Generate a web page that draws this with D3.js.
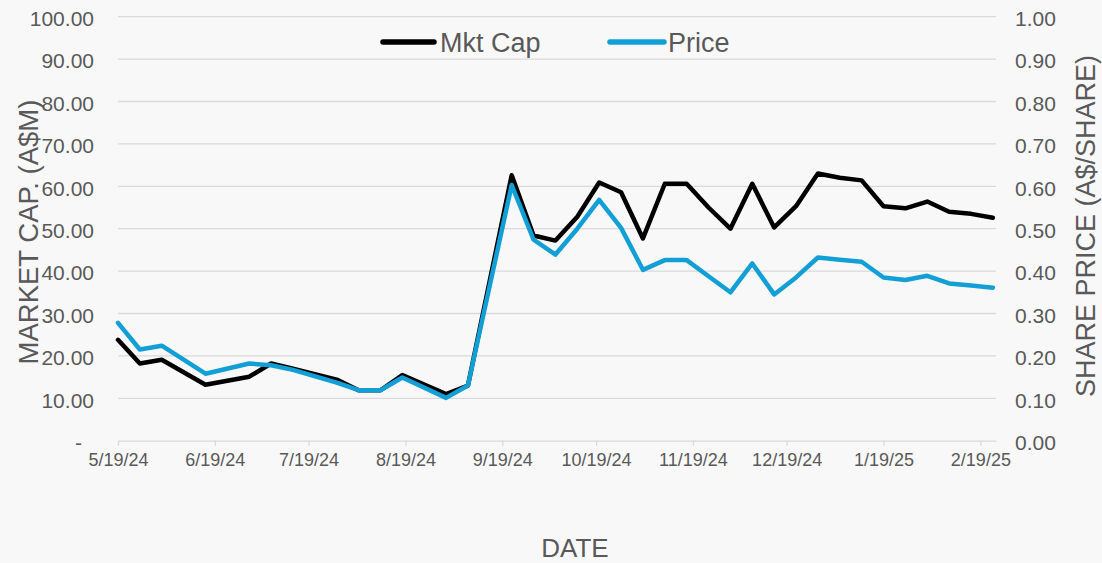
<!DOCTYPE html>
<html>
<head>
<meta charset="utf-8">
<script src="https://cdn.jsdelivr.net/npm/d3@7/dist/d3.min.js"></script>
<style>
  html, body { margin: 0; padding: 0; background: #f8f8f8; }
  svg { display: block; font-family: "Liberation Sans", Arial, sans-serif; }
</style>
</head>
<body>
<svg id="chart" width="1102" height="563"></svg>
<script>
// ---- data ----
const dates = ["2024-05-19","2024-05-26","2024-06-02","2024-06-16","2024-06-30","2024-07-07",
  "2024-07-14","2024-07-28","2024-08-04","2024-08-11","2024-08-18","2024-09-01","2024-09-08",
  "2024-09-22","2024-09-29","2024-10-06","2024-10-13","2024-10-20","2024-10-27","2024-11-03",
  "2024-11-10","2024-11-17","2024-11-24","2024-12-01","2024-12-08","2024-12-15","2024-12-22",
  "2024-12-29","2025-01-05","2025-01-12","2025-01-19","2025-01-26","2025-02-02","2025-02-09",
  "2025-02-16","2025-02-23"];
const mktCap = [23.8,18.2,19.1,13.2,15.1,18.2,17.0,14.4,11.9,11.9,15.5,11.0,13.0,
  62.6,48.4,47.2,52.8,60.9,58.6,47.7,60.6,60.6,55.0,50.0,60.6,50.3,55.3,
  63.0,62.0,61.4,55.3,54.8,56.4,54.0,53.5,52.6];
const price = [0.278,0.215,0.224,0.158,0.182,0.178,0.167,0.137,0.119,0.119,0.149,0.101,0.130,
  0.603,0.474,0.439,0.500,0.568,0.502,0.403,0.426,0.426,0.388,0.350,0.418,0.345,0.385,
  0.432,0.427,0.422,0.385,0.379,0.389,0.371,0.366,0.361];
const xTickDates = ["2024-05-19","2024-06-19","2024-07-19","2024-08-19","2024-09-19",
  "2024-10-19","2024-11-19","2024-12-19","2025-01-19","2025-02-19"];
const leftTicks = [0,10,20,30,40,50,60,70,80,90,100];
const rightTicks = [0,0.1,0.2,0.3,0.4,0.5,0.6,0.7,0.8,0.9,1.0];
const seriesNames = ["Mkt Cap","Price"];
const xDomainEnd = "2025-02-24";

// ---- layout ----
const svg = d3.select("#chart");
const W = 1102, H = 563;
const plot = {left: 118, right: 996, top: 16.7, bottom: 440.7};
const textColor = "#595959", gridColor = "#d9d9d9";
const colors = {"Mkt Cap": "#000000", "Price": "#129fd6"};

svg.append("rect").attr("width", W).attr("height", H).attr("fill", "#f8f8f8");

const parse = d3.utcParse("%Y-%m-%d");
const x = d3.scaleUtc().domain([parse(dates[0]), parse(xDomainEnd)]).range([plot.left, plot.right]);
const yL = d3.scaleLinear().domain([0, 100]).range([plot.bottom, plot.top]);
const yR = d3.scaleLinear().domain([0, 1]).range([plot.bottom, plot.top]);

// gridlines
svg.append("g").selectAll("line").data(leftTicks.filter(d => d > 0)).join("line")
  .attr("x1", plot.left).attr("x2", plot.right)
  .attr("y1", d => yL(d)).attr("y2", d => yL(d))
  .attr("stroke", gridColor).attr("stroke-width", 1.3);

// x axis
const fmtDate = d3.utcFormat("%-m/%-d/%y");
const xAxis = d3.axisBottom(x).tickValues(xTickDates.map(parse)).tickFormat(fmtDate)
  .tickSize(5).tickSizeOuter(0).tickPadding(8);
const gx = svg.append("g").attr("transform", `translate(0,${plot.bottom})`).call(xAxis);
gx.select(".domain").attr("stroke", gridColor).attr("stroke-width", 1.3);
gx.selectAll(".tick line").attr("stroke", gridColor).attr("stroke-width", 1.3);
gx.selectAll(".tick text").attr("fill", textColor).attr("font-size", 18)
  .attr("font-family", "Liberation Sans, Arial, sans-serif");

// left axis
const yAxisL = d3.axisLeft(yL).tickValues(leftTicks)
  .tickFormat(d => d === 0 ? "-" : d3.format(".2f")(d)).tickSize(0).tickPadding(24);
const gl = svg.append("g").attr("transform", `translate(${plot.left},0)`).call(yAxisL);
gl.select(".domain").remove();
gl.selectAll(".tick text").attr("fill", textColor).attr("font-size", 21)
  .attr("font-family", "Liberation Sans, Arial, sans-serif")
  .attr("dy", "0.42em")
  .attr("x", d => d === 0 ? -36 : -24);

// right axis
const yAxisR = d3.axisRight(yR).tickValues(rightTicks)
  .tickFormat(d3.format(".2f")).tickSize(0).tickPadding(19);
const gr = svg.append("g").attr("transform", `translate(${plot.right},0)`).call(yAxisR);
gr.select(".domain").remove();
gr.selectAll(".tick text").attr("fill", textColor).attr("font-size", 21)
  .attr("font-family", "Liberation Sans, Arial, sans-serif")
  .attr("dy", "0.42em");

// axis titles
svg.append("text").text("MARKET CAP. (A$M)")
  .attr("transform", `translate(38,232) rotate(-90)`)
  .attr("text-anchor", "middle").attr("fill", textColor).attr("font-size", 27.5);
svg.append("text").text("SHARE PRICE (A$/SHARE)")
  .attr("transform", `translate(1095,226) rotate(-90)`)
  .attr("text-anchor", "middle").attr("fill", textColor).attr("font-size", 27);
svg.append("text").text("DATE")
  .attr("x", 575).attr("y", 557)
  .attr("text-anchor", "middle").attr("fill", textColor).attr("font-size", 26);

// lines
const rows = dates.map((d, i) => ({date: parse(d), cap: mktCap[i], price: price[i]}));
const lineCap = d3.line().x(d => x(d.date)).y(d => yL(d.cap));
const linePrice = d3.line().x(d => x(d.date)).y(d => yR(d.price));
svg.append("path").datum(rows).attr("d", lineCap)
  .attr("fill", "none").attr("stroke", colors["Mkt Cap"]).attr("stroke-width", 4.5)
  .attr("stroke-linejoin", "round").attr("stroke-linecap", "round");
svg.append("path").datum(rows).attr("d", linePrice)
  .attr("fill", "none").attr("stroke", colors["Price"]).attr("stroke-width", 4.5)
  .attr("stroke-linejoin", "round").attr("stroke-linecap", "round");

// legend
const legendItems = [
  {name: seriesNames[0], x1: 383, x2: 434, tx: 440},
  {name: seriesNames[1], x1: 610, x2: 664, tx: 668}
];
const lg = svg.append("g");
legendItems.forEach(it => {
  lg.append("line").attr("x1", it.x1).attr("x2", it.x2).attr("y1", 42).attr("y2", 42)
    .attr("stroke", colors[it.name]).attr("stroke-width", 5.5).attr("stroke-linecap", "round");
  lg.append("text").text(it.name).attr("x", it.tx).attr("y", 52)
    .attr("fill", textColor).attr("font-size", 27);
});
</script>
</body>
</html>
